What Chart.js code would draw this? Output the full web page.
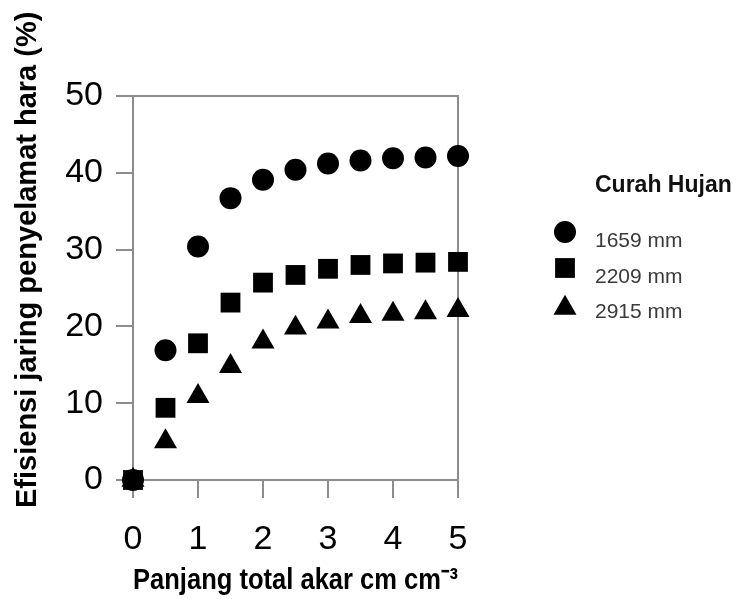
<!DOCTYPE html>
<html>
<head>
<meta charset="utf-8">
<title>Efisiensi jaring penyelamat hara</title>
<script src="https://cdn.jsdelivr.net/npm/chart.js@4/dist/chart.umd.min.js"></script>
<style>
  html, body { margin: 0; padding: 0; background: #fff; }
  #wrap { width: 744px; height: 599px; }
</style>
</head>
<body>
<div id="wrap"><canvas id="chart" width="744" height="599"></canvas></div>
<script>
// total root length (cm cm-3)
const rootLength = [0, 0.5, 1, 1.5, 2, 2.5, 3, 3.5, 4, 4.5, 5];

// efficiency (%) for each rainfall level
const rain1659 = [0, 16.9, 30.4, 36.7, 39.1, 40.4, 41.2, 41.6, 41.9, 42.0, 42.2];
const rain2209 = [0, 9.4, 17.8, 23.1, 25.7, 26.7, 27.5, 28.0, 28.2, 28.3, 28.4];
const rain2915 = [0, 5.0, 10.9, 14.8, 18.0, 19.8, 20.6, 21.3, 21.6, 21.8, 22.1];

const seriesLabels = ['1659 mm', '2209 mm', '2915 mm'];
const legendTitle = 'Curah Hujan';
const xTitle = 'Panjang total akar cm cm\u207B\u00B3';
const yTitle = 'Efisiensi jaring penyelamat hara (%)';

const FONT = "'Liberation Sans', Arial, sans-serif";
const AXIS = '#8c8c8c';

const toPoints = (ys) => rootLength.map((x, i) => ({ x: x, y: ys[i] }));

// frame on top and right of the plot
const frame = {
  id: 'frame',
  beforeDatasetsDraw(chart) {
    const { ctx, chartArea: a } = chart;
    ctx.save();
    ctx.strokeStyle = AXIS;
    ctx.lineWidth = 2;
    ctx.beginPath();
    ctx.moveTo(a.left, a.top);
    ctx.lineTo(a.right, a.top);
    ctx.lineTo(a.right, a.bottom);
    ctx.stroke();
    ctx.restore();
  }
};

// legend at the right, drawn with the same point styles as the data
const sideLegend = {
  id: 'sideLegend',
  afterDraw(chart, args, opts) {
    const ctx = chart.ctx;
    ctx.save();
    ctx.fillStyle = '#111';
    ctx.textBaseline = 'middle';
    ctx.textAlign = 'left';
    ctx.font = 'bold 23px ' + FONT;
    ctx.fillText(opts.title, opts.textX, opts.titleY);
    chart.data.datasets.forEach((ds, i) => {
      ctx.fillStyle = '#000';
      ctx.strokeStyle = '#000';
      Chart.helpers.drawPoint(ctx, {
        pointStyle: ds.pointStyle, rotation: 0, radius: ds.pointRadius, borderWidth: 0
      }, opts.markX, opts.markY[i]);
      ctx.fillStyle = '#3a3a3a';
      ctx.font = '21px ' + FONT;
      ctx.fillText(ds.label, opts.textX, opts.textY[i]);
    });
    ctx.restore();
  }
};

const makeSet = (label, ys, style, r) => ({
  label: label,
  data: toPoints(ys),
  pointStyle: style,
  pointRadius: r,
  pointHoverRadius: r,
  pointBackgroundColor: '#000',
  pointBorderColor: '#000',
  pointBorderWidth: 0,
  showLine: false,
  clip: false
});

new Chart(document.getElementById('chart'), {
  type: 'scatter',
  data: {
    datasets: [
      makeSet(seriesLabels[0], rain1659, 'circle', 11),
      makeSet(seriesLabels[1], rain2209, 'rect', 14),
      makeSet(seriesLabels[2], rain2915, 'triangle', 13.3)
    ]
  },
  options: {
    responsive: false,
    animation: false,
    layout: { padding: { left: 0, top: 96, right: 286, bottom: 0 } },
    plugins: {
      legend: { display: false },
      tooltip: { enabled: false },
      sideLegend: {
        title: legendTitle,
        textX: 595,
        titleY: 186,
        markX: 565,
        markY: [232, 268, 308],
        textY: [241, 277, 312]
      }
    },
    scales: {
      x: {
        type: 'linear',
        min: 0,
        max: 5,
        afterFit: (s) => { s.height = 119; },
        border: { display: true, color: AXIS, width: 2 },
        grid: { drawOnChartArea: false, drawTicks: true, tickLength: 18, color: AXIS, lineWidth: 2 },
        ticks: { stepSize: 1, color: '#000', padding: 21, font: { family: FONT, size: 34 } },
        title: {
          display: true,
          text: xTitle,
          align: 'start',
          color: '#000',
          padding: { top: 0, bottom: 0 },
          font: { family: FONT, size: 30, weight: 'bold' }
        }
      },
      y: {
        type: 'linear',
        min: 0,
        max: 50,
        afterFit: (s) => { s.width = 133; },
        border: { display: true, color: AXIS, width: 2 },
        grid: { drawOnChartArea: false, drawTicks: true, tickLength: 17, color: AXIS, lineWidth: 2 },
        ticks: { stepSize: 10, color: '#000', padding: 13, font: { family: FONT, size: 34 } },
        title: {
          display: true,
          text: '       ' + yTitle,
          color: '#000',
          padding: { top: 11, bottom: 0 },
          font: { family: FONT, size: 29, weight: 'bold' }
        }
      }
    }
  },
  plugins: [frame, sideLegend]
});
</script>
</body>
</html>
